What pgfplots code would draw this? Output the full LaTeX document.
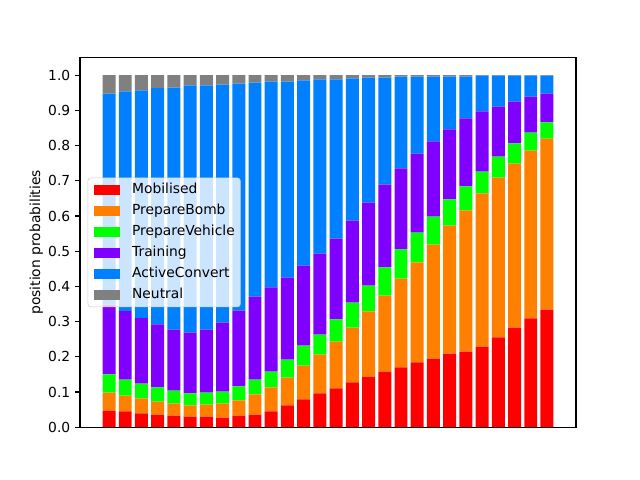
\documentclass[border=0pt]{standalone}
\usepackage{fontspec}
\setmainfont{DejaVu Sans}
\usepackage{pgfplots}
\usepackage{pgfplotstable}
\pgfplotsset{compat=1.18}
\definecolor{cR}{RGB}{255,0,0}
\definecolor{cO}{RGB}{255,128,0}
\definecolor{cG}{RGB}{0,255,0}
\definecolor{cP}{RGB}{128,0,255}
\definecolor{cB}{RGB}{0,128,255}
\definecolor{cN}{RGB}{128,128,128}
\definecolor{legedge}{RGB}{204,204,204}
\pgfplotstableread{
x r o g p b n
0 0.047 0.051 0.052 0.198 0.600 0.052
1 0.045 0.045 0.045 0.195 0.624 0.046
2 0.039 0.043 0.042 0.186 0.647 0.043
3 0.036 0.037 0.040 0.179 0.671 0.037
4 0.033 0.034 0.037 0.173 0.688 0.035
5 0.030 0.032 0.034 0.173 0.702 0.029
6 0.030 0.034 0.034 0.179 0.694 0.029
7 0.027 0.040 0.034 0.196 0.676 0.027
8 0.033 0.043 0.040 0.215 0.645 0.024
9 0.036 0.057 0.042 0.236 0.608 0.021
10 0.045 0.068 0.045 0.239 0.585 0.018
11 0.062 0.079 0.051 0.233 0.557 0.018
12 0.079 0.096 0.057 0.227 0.526 0.015
13 0.096 0.110 0.057 0.230 0.495 0.012
14 0.110 0.133 0.063 0.230 0.452 0.012
15 0.127 0.156 0.071 0.233 0.404 0.009
16 0.144 0.185 0.073 0.236 0.355 0.007
17 0.158 0.216 0.080 0.235 0.304 0.007
18 0.170 0.252 0.083 0.230 0.261 0.004
19 0.184 0.284 0.085 0.224 0.219 0.004
20 0.195 0.324 0.079 0.214 0.184 0.004
21 0.209 0.364 0.074 0.199 0.150 0.004
22 0.215 0.401 0.068 0.193 0.119 0.004
23 0.229 0.435 0.062 0.171 0.102 0.001
24 0.255 0.454 0.060 0.142 0.088 0.001
25 0.283 0.466 0.057 0.119 0.074 0.001
26 0.309 0.477 0.051 0.102 0.060 0.001
27 0.334 0.486 0.046 0.082 0.051 0.001
}\data
\begin{document}
\begin{tikzpicture}
\path[use as bounding box] (-57.6bp,-38.016bp) rectangle (403.2bp,307.584bp);
\begin{axis}[
  at={(0,0)}, anchor=south west,
  scale only axis, width=357.12bp, height=266.112bp,
  xmin=-1.79, xmax=28.79, ymin=0, ymax=1.05,
  ybar stacked, bar width=0.8, bar shift=0pt,
  xtick=\empty,
  ytick={0,0.1,...,1.0},
  yticklabel style={font=\fontsize{10}{12}\selectfont},
  /pgf/number format/fixed, /pgf/number format/fixed zerofill,
  /pgf/number format/precision=1, /pgf/number format/assume math mode=true,
  tick align=outside, ytick pos=left,
  major tick length=3.5bp,
  every tick/.style={line width=0.8bp, black},
  axis line style={line width=0.8bp},
  ylabel={position probabilities},
  ylabel style={font=\fontsize{10}{12}\selectfont, yshift=-3bp},
  legend style={at={(0.0155,0.5)}, anchor=west, fill=white, fill opacity=0.8, text opacity=1, draw=legedge, rounded corners=2bp, font=\fontsize{10}{12}\selectfont, inner xsep=4bp, inner ysep=3.6bp, row sep=5.12bp, column sep=0pt, nodes={inner xsep=0pt, inner ysep=0pt, text height=7.5bp, text depth=2.5bp}},
  legend cell align=left,
  legend image code/.code={\fill[#1, sharp corners, fill opacity=1] (0bp,-3.5bp) rectangle (19.4bp,3.5bp); \path (27.8bp,0bp);},
]
\addplot[fill=cR, draw=none] table[x=x,y=r]{\data};
\addplot[fill=cO, draw=none] table[x=x,y=o]{\data};
\addplot[fill=cG, draw=none] table[x=x,y=g]{\data};
\addplot[fill=cP, draw=none] table[x=x,y=p]{\data};
\addplot[fill=cB, draw=none] table[x=x,y=b]{\data};
\addplot[fill=cN, draw=none] table[x=x,y=n]{\data};
\legend{Mobilised,PrepareBomb,PrepareVehicle,Training,ActiveConvert,Neutral}
\end{axis}
\end{tikzpicture}
\end{document}
